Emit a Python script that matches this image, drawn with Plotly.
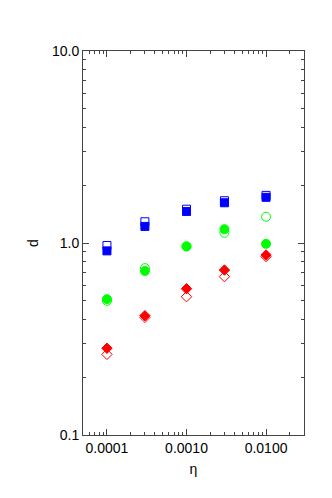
import numpy as np
import plotly.graph_objects as go

eta = [0.0001, 0.0003, 0.001, 0.003, 0.01]

blue_open = [0.97, 1.29, 1.50, 1.66, 1.77]
blue_filled = [0.91, 1.22, 1.46, 1.62, 1.73]
green_open = [0.50, 0.74, 0.96, 1.13, 1.37]
green_filled = [0.51, 0.715, 0.96, 1.18, 0.99]
red_open = [0.263, 0.41, 0.525, 0.668, 0.85]
red_filled = [0.283, 0.418, 0.578, 0.723, 0.866]

x_tickvals = [0.0001, 0.001, 0.01]
x_ticktext = ["0.0001", "0.0010", "0.0100"]
y_tickvals = [0.1, 1.0, 10.0]
y_ticktext = ["0.1", "1.0", "10.0"]

fig = go.Figure()

def add(y, color, symbol, size):
    fig.add_trace(go.Scatter(
        x=eta, y=y, mode="markers",
        marker=dict(color=color, symbol=symbol, size=size,
                    line=dict(color=color, width=1)),
        showlegend=False))

add(blue_open, "#0000ff", "square-open", 8)
add(green_open, "#00ff00", "circle-open", 9)
add(red_open, "#ff0000", "diamond-open", 8)
add(blue_filled, "#0000ff", "square", 8)
add(green_filled, "#00ff00", "circle", 9)
add(red_filled, "#ff0000", "diamond", 8)

def minor_vals(lo, hi):
    vals = []
    for e in range(lo, hi + 1):
        for m in range(2, 10):
            vals.append(m * 10.0 ** e)
    return vals

font = dict(family="Liberation Sans, Arial", size=14, color="black")

axis_common = dict(
    type="log", showgrid=False, zeroline=False, automargin=False,
    showline=True, linecolor="#444", linewidth=1, mirror="ticks",
    ticks="inside", ticklen=6, tickcolor="#444", tickwidth=1,
    tickfont=font,
)

fig.update_xaxes(
    **axis_common,
    range=[np.log10(5e-5), np.log10(0.03)],
    tickvals=x_tickvals, ticktext=x_ticktext,
    minor=dict(tickvals=minor_vals(-5, -2), ticks="inside", ticklen=3,
               tickcolor="#444", tickwidth=1, showgrid=False),
    title=dict(text="η", font=font, standoff=9),
)
fig.update_yaxes(
    **axis_common,
    range=[-1, 1],
    tickvals=y_tickvals, ticktext=y_ticktext,
    minor=dict(tickvals=minor_vals(-1, 0), ticks="inside", ticklen=3,
               tickcolor="#444", tickwidth=1, showgrid=False),
    title=dict(text="d", font=font, standoff=10),
)

fig.update_layout(
    width=332, height=498,
    margin=dict(l=75, r=36, t=43, b=71),
    paper_bgcolor="white", plot_bgcolor="white",
)

fig.write_html("out.html")
